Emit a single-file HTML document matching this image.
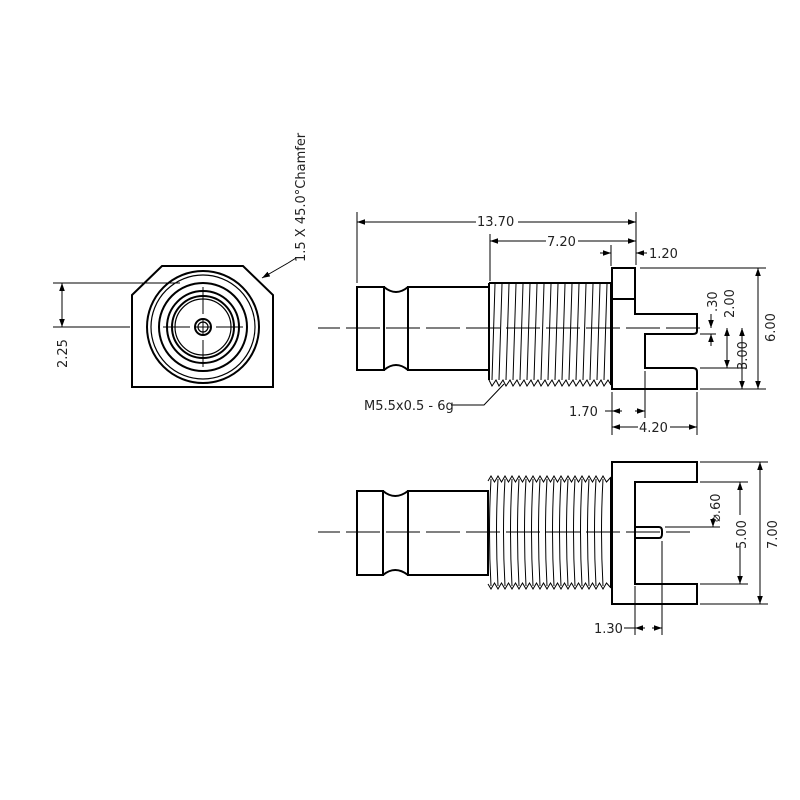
<!DOCTYPE html>
<html><head><meta charset="utf-8"><style>
html,body{margin:0;padding:0;background:#fff;}
svg{display:block;}
text{font-family:"DejaVu Sans","Liberation Sans",sans-serif;font-size:13px;fill:#222;}
</style></head><body>
<svg width="800" height="800" viewBox="0 0 800 800" xmlns="http://www.w3.org/2000/svg">
<defs>
<marker id="a" viewBox="0 0 10 10" refX="10" refY="5" markerWidth="8" markerHeight="8" orient="auto-start-reverse" markerUnits="userSpaceOnUse"><path d="M0,1.5 L10,5 L0,8.5 Z" fill="#000"/></marker>
</defs>
<g stroke="#000" fill="none" stroke-width="2">
<path d="M132,295 L162,266 L243,266 L273,295 L273,387 L132,387 Z"/>
<circle cx="203" cy="327" r="56"/>
<circle cx="203" cy="327" r="52" stroke-width="1.2"/>
<circle cx="203" cy="327" r="44"/>
<circle cx="203" cy="327" r="36"/>
<circle cx="203" cy="327" r="31"/>
<circle cx="203" cy="327" r="28" stroke-width="1.2"/>
<circle cx="203" cy="327" r="8"/>
<circle cx="203" cy="327" r="5" stroke-width="1.2"/>
</g>
<g stroke="#000" stroke-width="1" fill="none">
<path d="M163,327 H190 M196,327 H210 M216,327 H243 M203,287 V314 M203,320 V334 M203,340 V367"/>
<path d="M53,283 H180 M53,327 H130"/>
<line x1="62" y1="283" x2="62" y2="327" marker-start="url(#a)" marker-end="url(#a)"/>
<path d="M296,258 L288,263"/>
<line x1="288" y1="263" x2="262" y2="278" marker-end="url(#a)"/>
</g>
<text transform="translate(67,368) rotate(-90)">2.25</text>
<text transform="translate(305,262) rotate(-90)">1.5 X 45.0°Chamfer</text>

<g stroke="#000" fill="none" stroke-width="2">
<path d="M357,287 H384 V370 H357 Z"/>
<path d="M384,287 Q396,297 408,287 M384,370 Q396,360 408,370"/>
<path d="M408,287 H489 V370 H408 Z"/>
<path d="M489,283 H611 V385 M489,283 V380"/>
<path d="M612,268 H635 V314 H697 V331 Q697,334 693,334 H645 V368 H693 Q697,368 697,372 V389 H612 Z"/>
<path d="M612,299 H635"/>
</g>
<g stroke="#000" stroke-width="1" fill="none">
<path d="M495,284 L492,380 M502,284 L499,380 M509,284 L506,380 M516,284 L513,380 M523,284 L520,380 M530,284 L527,380 M537,284 L534,380 M544,284 L541,380 M551,284 L548,380 M558,284 L555,380 M565,284 L562,380 M572,284 L569,380 M579,284 L576,380 M586,284 L583,380 M593,284 L590,380 M600,284 L597,380 M607,284 L604,380"/>
<polyline points="489,380 492,386 496,380 499,386 503,380 506,386 510,380 513,386 517,380 520,386 524,380 527,386 531,380 534,386 538,380 541,386 545,380 548,386 552,380 555,386 559,380 562,386 566,380 569,386 573,380 576,386 580,380 583,386 587,380 590,386 594,380 597,386 601,380 604,386 608,380 611,385"/>
</g>
<g stroke="#000" stroke-width="1" fill="none">
<path d="M318,328 H340 M346,328 H380 M386,328 H420 M426,328 H460 M466,328 H500 M506,328 H540 M546,328 H580 M586,328 H620 M626,328 H660 M666,328 H700"/>
<path d="M357,212 V283 M636,212 V265 M490,234 V281 M611,245 V266"/>
<line x1="357" y1="222" x2="476" y2="222" marker-start="url(#a)"/>
<line x1="518" y1="222" x2="636" y2="222" marker-end="url(#a)"/>
<line x1="490" y1="241" x2="546" y2="241" marker-start="url(#a)"/>
<line x1="578" y1="241" x2="636" y2="241" marker-end="url(#a)"/>
<line x1="600" y1="253" x2="611" y2="253" marker-end="url(#a)"/>
<line x1="647" y1="253" x2="636" y2="253" marker-end="url(#a)"/>
<path d="M640,268 H766 M700,389 H766 M700,368 H746 M700,334 H716"/>
<line x1="758" y1="268" x2="758" y2="389" marker-start="url(#a)" marker-end="url(#a)"/>
<line x1="742" y1="328" x2="742" y2="389" marker-start="url(#a)" marker-end="url(#a)"/>
<line x1="727" y1="328" x2="727" y2="368" marker-start="url(#a)" marker-end="url(#a)"/>
<line x1="711" y1="314" x2="711" y2="328" marker-end="url(#a)"/>
<line x1="711" y1="346" x2="711" y2="334" marker-end="url(#a)"/>
<path d="M612,392 V435 M645,371 V418 M697,392 V435"/>
<line x1="605" y1="411" x2="612" y2="411"/>
<line x1="622" y1="411" x2="612" y2="411" marker-end="url(#a)"/>
<line x1="635" y1="411" x2="645" y2="411" marker-end="url(#a)"/>
<line x1="612" y1="427" x2="638" y2="427" marker-start="url(#a)"/>
<line x1="670" y1="427" x2="697" y2="427" marker-end="url(#a)"/>
<path d="M451,405 H484 L504,384"/>
</g>
<text x="477" y="226">13.70</text>
<text x="547" y="246">7.20</text>
<text x="649" y="258">1.20</text>
<text transform="translate(775,342) rotate(-90)">6.00</text>
<text transform="translate(747,370) rotate(-90)">3.00</text>
<text transform="translate(734,318) rotate(-90)">2.00</text>
<text transform="translate(717,312) rotate(-90)">.30</text>
<text x="569" y="416">1.70</text>
<text x="639" y="432">4.20</text>
<text x="364" y="410">M5.5x0.5 - 6g</text>

<g stroke="#000" fill="none" stroke-width="2">
<path d="M357,491 H383 V575 H357 Z"/>
<path d="M383,491 Q395,501 408,491 M383,575 Q395,565 408,575"/>
<path d="M408,491 H488 V575 H408 Z"/>
<path d="M612,462 H697 V482 H635 V584 H697 V604 H612 Z"/>
<path d="M611,478 V588"/>
<path d="M635,527 H659 Q662,527 662,531 V534 Q662,538 659,538 H635"/>
</g>
<g stroke="#000" stroke-width="1" fill="none">
<path d="M491,479 Q488,532 491,586 M498,479 Q495,532 498,586 M505,479 Q502,532 505,586 M512,479 Q509,532 512,586 M519,479 Q516,532 519,586 M526,479 Q523,532 526,586 M533,479 Q530,532 533,586 M540,479 Q537,532 540,586 M547,479 Q544,532 547,586 M554,479 Q551,532 554,586 M561,479 Q558,532 561,586 M568,479 Q565,532 568,586 M575,479 Q572,532 575,586 M582,479 Q579,532 582,586 M589,479 Q586,532 589,586 M596,479 Q593,532 596,586 M603,479 Q600,532 603,586"/>
<polyline points="488,481 491,476 494.5,482 498,476 501.5,482 505,476 508.5,482 512,476 515.5,482 519,476 522.5,482 526,476 529.5,482 533,476 536.5,482 540,476 543.5,482 547,476 550.5,482 554,476 557.5,482 561,476 564.5,482 568,476 571.5,482 575,476 578.5,482 582,476 585.5,482 589,476 592.5,482 596,476 599.5,482 603,476 606.5,482 611,477"/>
<polyline points="488,584 491,589 494.5,583 498,589 501.5,583 505,589 508.5,583 512,589 515.5,583 519,589 522.5,583 526,589 529.5,583 533,589 536.5,583 540,589 543.5,583 547,589 550.5,583 554,589 557.5,583 561,589 564.5,583 568,589 571.5,583 575,589 578.5,583 582,589 585.5,583 589,589 592.5,583 596,589 599.5,583 603,589 606.5,583 611,588"/>
</g>
<g stroke="#000" stroke-width="1" fill="none">
<path d="M318,532 H340 M346,532 H380 M386,532 H420 M426,532 H460 M466,532 H500 M506,532 H540 M546,532 H580 M586,532 H620 M626,532 H660 M666,532 H690"/>
<path d="M700,462 H768 M700,482 H748 M700,584 H748 M700,604 H768 M665,527 H720"/>
<line x1="760" y1="462" x2="760" y2="604" marker-start="url(#a)" marker-end="url(#a)"/>
<line x1="740" y1="482" x2="740" y2="515" marker-start="url(#a)"/>
<line x1="740" y1="548" x2="740" y2="584" marker-end="url(#a)"/>
<line x1="713" y1="518" x2="713" y2="527" marker-end="url(#a)"/>
<path d="M635,586 V635 M662,541 V635"/>
<line x1="624" y1="628" x2="635" y2="628"/>
<line x1="645" y1="628" x2="635" y2="628" marker-end="url(#a)"/>
<line x1="652" y1="628" x2="662" y2="628" marker-end="url(#a)"/>
</g>
<text transform="translate(777,549) rotate(-90)">7.00</text>
<text transform="translate(746,549) rotate(-90)">5.00</text>
<text transform="translate(720,522) rotate(-90)">⌀.60</text>
<text x="594" y="633">1.30</text>
</svg>
</body></html>
